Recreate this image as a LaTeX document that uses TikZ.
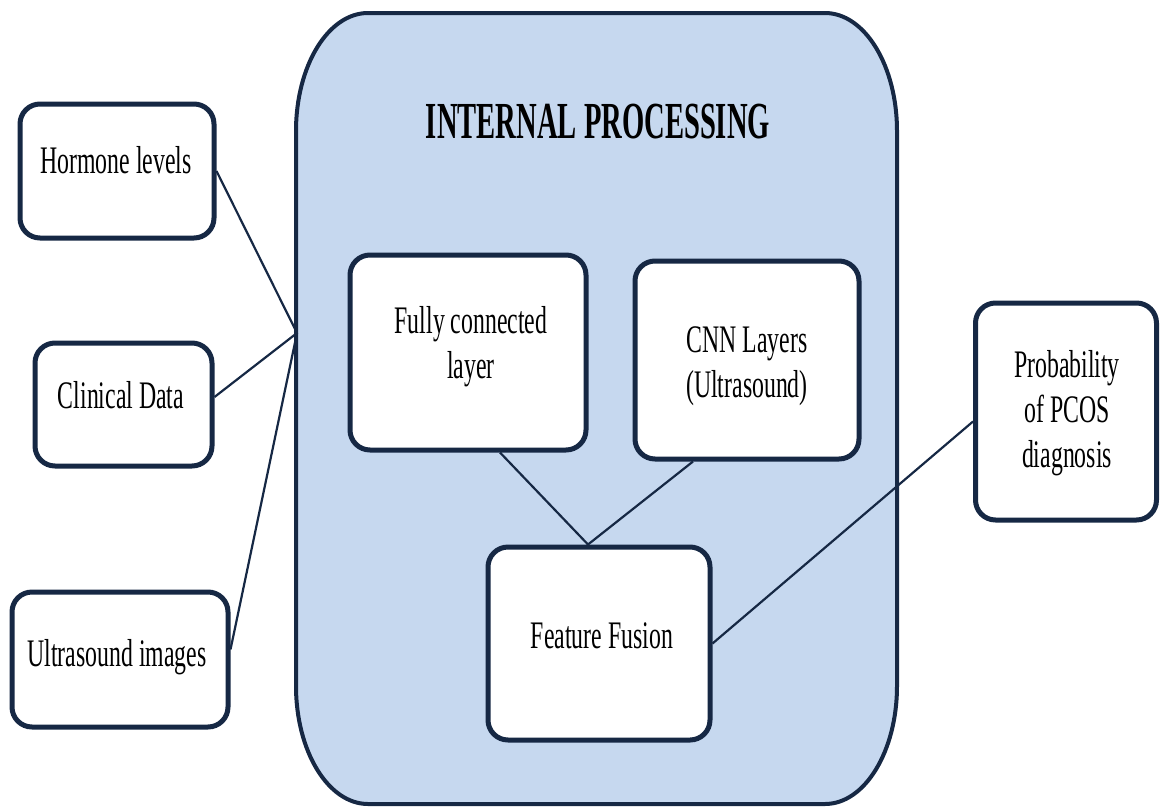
\documentclass[tikz,border=0pt]{standalone}
\usepackage{fontspec}
\setmainfont{Liberation Serif}[FakeStretch=0.61]
\newfontfamily\headfont{Liberation Serif}[FakeStretch=0.55]
\definecolor{navy}{HTML}{162844}
\definecolor{panel}{HTML}{C6D8EF}
\begin{document}
\begin{tikzpicture}[x=1pt,y=-1pt,
  box/.style={draw=navy, line width=5pt, fill=white, rounded corners=20pt, inner sep=0pt},
  lbl/.style={align=center, inner sep=0pt, text=black, font=\fontsize{39}{45}\selectfont},
  heading/.style={inner sep=0pt, text=black, font=\headfont\fontsize{52}{56}\selectfont\bfseries},
  link/.style={draw=navy, line width=2.2pt}]
\useasboundingbox (0,0) rectangle (1160,807);

% processing panel
\draw[navy, line width=4pt, fill=panel]
  (368,13) -- (825,13) .. controls (864.8,13) and (897,65.8) .. (897,131)
  -- (897,686) .. controls (897,751.2) and (864.8,804) .. (825,804)
  -- (368,804) .. controls (328.2,804) and (296,751.2) .. (296,686)
  -- (296,131) .. controls (296,65.8) and (328.2,13) .. (368,13) -- cycle;
\node[heading, anchor=base] (title) at (598,138) {INTERNAL PROCESSING};
\coordinate (hub) at (297,333);

% boxes
\node[box, minimum width=194pt, minimum height=134pt] (hormone) at (117,171) {};
\node[box, minimum width=177pt, minimum height=123pt] (clinical) at (123.5,404.5) {};
\node[box, minimum width=216pt, minimum height=135pt] (ultra) at (120,659.5) {};
\node[box, minimum width=236pt, minimum height=195pt] (fc) at (468,352.5) {};
\node[box, minimum width=224pt, minimum height=198pt] (cnn) at (747,360) {};
\node[box, minimum width=222pt, minimum height=193pt] (fusion) at (599,643.5) {};
\node[box, minimum width=181pt, minimum height=217pt] (prob) at (1066,411.5) {};

% connectors
\draw[link] (hormone.east) -- (hub);
\draw[link] ([yshift=7.5pt]clinical.east) -- (hub);
\draw[link] ([yshift=10pt]ultra.east) -- (hub);
\coordinate (fusetop) at ([xshift=-11pt]fusion.north);
\draw[link] ([xshift=32pt]fc.south) -- (fusetop);
\draw[link] ([xshift=-54pt]cnn.south) -- (fusetop);
\draw[link] (fusion.east) -- ([yshift=-10pt]prob.west);

% labels
\node[lbl, anchor=base] (hormoneT) at (116,173) {Hormone levels};
\node[lbl, anchor=base] (clinicalT) at (121,408) {Clinical Data};
\node[lbl, anchor=base] (ultraT) at (117,666) {Ultrasound images};
\node[lbl] (fcT) at (471,347) {Fully connected\\layer};
\node[lbl] (cnnT) at (747,366) {CNN Layers\\(Ultrasound)};
\node[lbl, anchor=base] (fusionT) at (602,648) {Feature Fusion};
\node[lbl] (probT) at (1067,413) {Probability\\of PCOS\\diagnosis};
\end{tikzpicture}
\end{document}
